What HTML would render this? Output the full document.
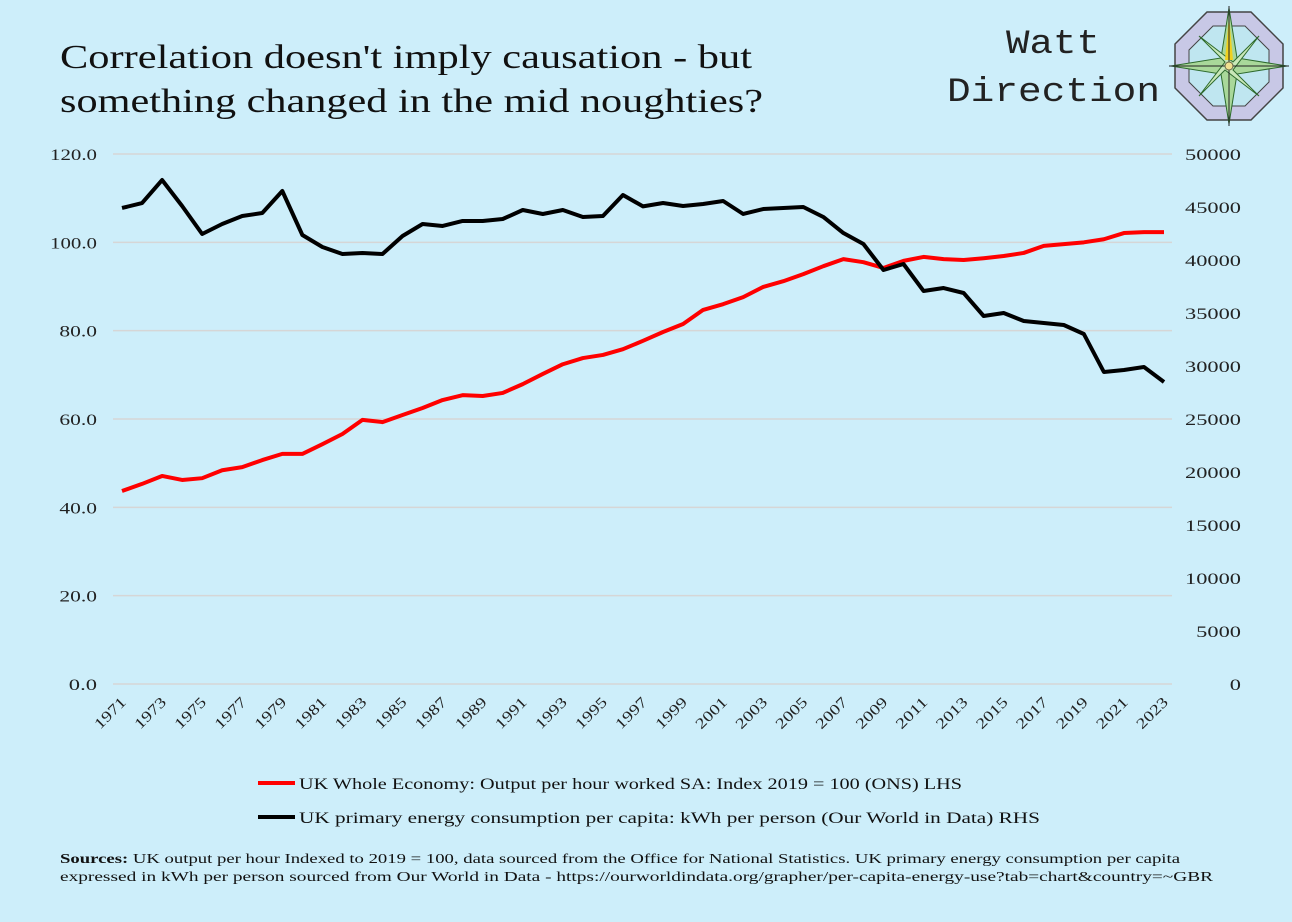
<!DOCTYPE html>
<html><head><meta charset="utf-8"><style>
body{margin:0;background:#cdeefa;}
svg{display:block;}
text{font-family:"Liberation Serif",serif;}
</style></head><body>
<svg id="c" width="1292" height="922" xmlns="http://www.w3.org/2000/svg">
<rect width="1292" height="922" fill="#cdeefa"/>
<text x="60" y="68" font-size="34" textLength="692" lengthAdjust="spacingAndGlyphs" fill="#111">Correlation doesn't imply causation - but</text>
<text x="60" y="112" font-size="34" textLength="703" lengthAdjust="spacingAndGlyphs" fill="#111">something changed in the mid noughties?</text>
<text x="1006" y="53" font-size="34" textLength="94" lengthAdjust="spacingAndGlyphs" style="font-family:'Liberation Mono',monospace" fill="#222">Watt</text>
<text x="947" y="101" font-size="34" textLength="213" lengthAdjust="spacingAndGlyphs" style="font-family:'Liberation Mono',monospace" fill="#222">Direction</text>
<g transform="translate(1229,66)">
<polygon points="-22,-54 22,-54 54,-22 54,22 22,54 -22,54 -54,22 -54,-22" fill="#c8c8e6" stroke="#444" stroke-width="1.5"/>
<polygon points="-16,-40 16,-40 40,-16 40,16 16,40 -16,40 -40,16 -40,-16" fill="#bfe6f0" stroke="#444" stroke-width="1"/>
<polygon points="0,-58 8,-8 58,0 8,8 0,58 -8,8 -58,0 -8,-8" fill="#a9d89a" stroke="#2d6a2d" stroke-width="1"/>
<polygon points="-30,-30 4,-4 30,-30 4,4 30,30 -4,4 -30,30 -4,-4" fill="#c9e8b8" stroke="#2d6a2d" stroke-width="1"/>
<polygon points="0,-50 4,-6 -4,-6" fill="#f0d020"/>
<line x1="-60" y1="0" x2="60" y2="0" stroke="#222" stroke-width="1"/>
<line x1="0" y1="-60" x2="0" y2="60" stroke="#222" stroke-width="1"/>
<circle r="4" fill="#f0e090" stroke="#664" stroke-width="1"/>
</g>
<g id="grid"></g><g id="axes"></g><g id="series"></g>
<g>
<line x1="258" y1="783" x2="295" y2="783" stroke="#ff0000" stroke-width="4"/>
<text x="299" y="789" font-size="16" textLength="663" lengthAdjust="spacingAndGlyphs" fill="#111">UK Whole Economy: Output per hour worked SA: Index 2019 = 100 (ONS) LHS</text>
<line x1="258" y1="817" x2="295" y2="817" stroke="#000" stroke-width="4"/>
<text x="299" y="823" font-size="16" textLength="741" lengthAdjust="spacingAndGlyphs" fill="#111">UK primary energy consumption per capita: kWh per person (Our World in Data) RHS</text>
</g>
<text x="60" y="863" font-size="14" textLength="1120" lengthAdjust="spacingAndGlyphs" fill="#111"><tspan font-weight="bold">Sources:</tspan> UK output per hour Indexed to 2019 = 100, data sourced from the Office for National Statistics. UK primary energy consumption per capita</text>
<text x="60" y="881" font-size="14" textLength="1153" lengthAdjust="spacingAndGlyphs" fill="#111">expressed in kWh per person sourced from Our World in Data - https://ourworldindata.org/grapher/per-capita-energy-use?tab=chart&amp;country=~GBR</text>
</svg>
<script>
const years=[];for(let y=1971;y<=2023;y++)years.push(y);
const productivity=[43.7,45.3,47.1,46.2,46.6,48.4,49.1,50.7,52.1,52.1,54.3,56.6,59.8,59.3,60.9,62.5,64.3,65.4,65.2,65.9,67.9,70.2,72.4,73.8,74.5,75.8,77.7,79.7,81.5,84.7,86.0,87.6,89.9,91.2,92.8,94.6,96.2,95.5,94.2,95.8,96.7,96.2,96.0,96.4,96.9,97.6,99.2,99.6,100.0,100.7,102.1,102.3,102.3];
const energy=[44906,45377,47547,45094,42453,43396,44151,44434,46510,42359,41226,40566,40660,40566,42264,43396,43208,43680,43680,43868,44717,44340,44717,44057,44151,46132,45057,45377,45094,45283,45566,44340,44811,44906,45000,44057,42547,41509,39057,39623,37076,37358,36887,34717,35000,34245,34057,33868,33019,29434,29623,29906,28491];
const leftTicks=[0,20,40,60,80,100,120];
const rightTicks=[0,5000,10000,15000,20000,25000,30000,35000,40000,45000,50000];
const NS="http://www.w3.org/2000/svg";
const x0=122,x1=1164,yTop=154,yBot=684;
const xs=yr=>x0+(yr-1971)*(x1-x0)/52;
const yl=v=>yBot-v/120*(yBot-yTop);
const yr_=v=>yBot-v/50000*(yBot-yTop);
function mk(tag,attrs,parent){const e=document.createElementNS(NS,tag);for(const k in attrs)e.setAttribute(k,attrs[k]);document.getElementById(parent).appendChild(e);return e;}
leftTicks.forEach(v=>{
 const l=mk('line',{x1:113,x2:1172,y1:yl(v),y2:yl(v),stroke:'#d6d6d6','stroke-width':1.5},'grid');
 
 
 const s=v.toFixed(1);
 const t=mk('text',{x:97,y:yl(v)+6,'font-size':16,'text-anchor':'end',fill:'#222',textLength:s.length*9.4,lengthAdjust:'spacingAndGlyphs'},'axes');
 t.textContent=s;
 
 
});
rightTicks.forEach(v=>{
 const s=String(v);
 const t=mk('text',{x:1241,y:yr_(v)+6,'font-size':16,'text-anchor':'end',fill:'#222',textLength:s.length*11.2,lengthAdjust:'spacingAndGlyphs'},'axes');
 t.textContent=s;
 
 
});
years.forEach(y=>{if((y-1971)%2)return;
 const x=xs(y)+5,yy=703;
 const t=mk('text',{x:x,y:yy,'font-size':15,'text-anchor':'end',fill:'#222',textLength:38,lengthAdjust:'spacingAndGlyphs',transform:`rotate(-45 ${x} ${yy})`},'axes');
 t.textContent=y;
 
 
});
const p1=mk('polyline',{points:years.map((y,i)=>xs(y)+','+yl(productivity[i])).join(' '),fill:'none',stroke:'#ff0000','stroke-width':4,'stroke-linejoin':'round'},'series');


const p2=mk('polyline',{points:years.map((y,i)=>xs(y)+','+yr_(energy[i])).join(' '),fill:'none',stroke:'#000','stroke-width':4,'stroke-linejoin':'round'},'series');


</script>
</body></html>
